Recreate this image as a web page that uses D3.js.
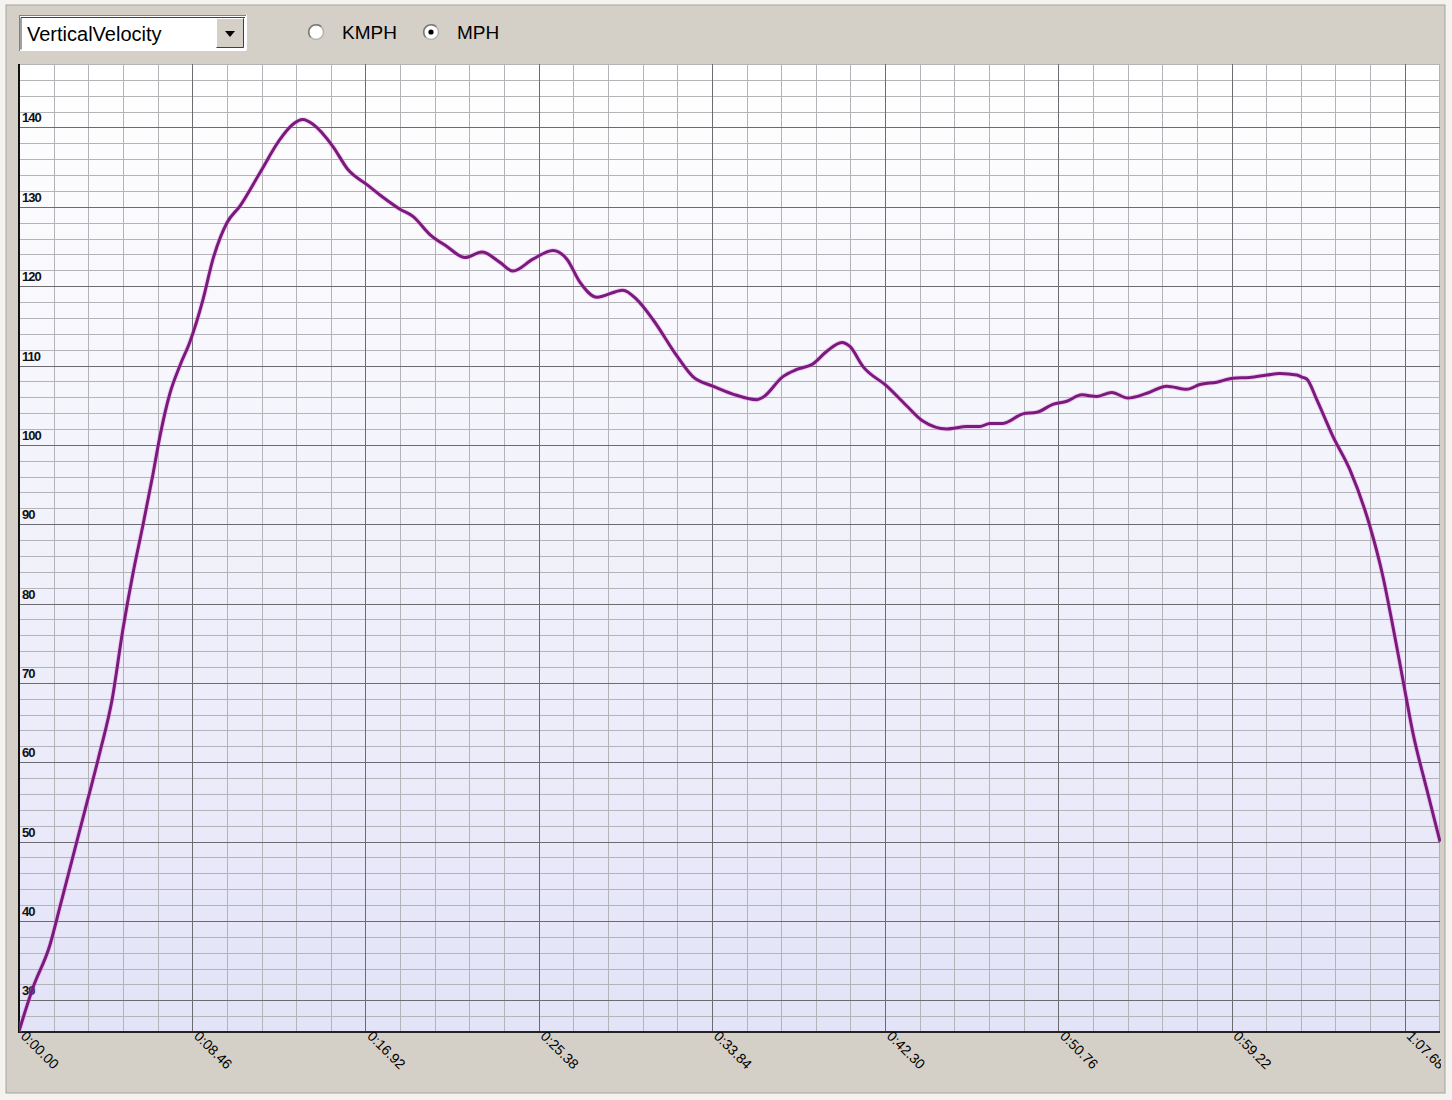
<!DOCTYPE html>
<html>
<head>
<meta charset="utf-8">
<script src="https://cdn.jsdelivr.net/npm/d3@7"></script>
<style>
  html, body { margin: 0; padding: 0; background: #f4f3ef; }
  svg { display: block; }
  text { font-family: "Liberation Sans", Arial, sans-serif; }
</style>
</head>
<body>
<svg id="chart" width="1452" height="1100"></svg>
<script>
// Elapsed time (seconds) and vertical velocity (mph)
const timeSec = [
  0, 0.684, 1.514, 2.002, 2.832, 3.369, 3.955, 4.541, 5.078, 5.567,
  6.055, 6.543, 6.885, 7.373, 7.862, 8.350, 8.985, 9.473, 10.157, 10.792,
  11.768, 12.745, 13.380, 13.868, 14.356, 15.333, 16.065, 16.993, 17.774, 18.605,
  19.239, 20.070, 20.900, 21.779, 22.609, 23.488, 24.123, 25.099, 26.076, 26.759,
  27.394, 28.224, 29.494, 30.177, 30.959, 32.131, 32.912, 33.889, 34.865, 36.037,
  36.330, 37.307, 37.990, 38.772, 39.456, 40.188, 40.579, 41.214, 42.385, 43.362,
  44.143, 45.315, 46.292, 46.927, 47.415, 48.050, 49.026, 49.710, 50.491, 51.175,
  51.907, 52.640, 53.372, 54.153, 55.081, 56.058, 57.034, 57.669, 58.499, 59.280,
  60.110, 60.940, 61.575, 62.405, 62.698, 62.893, 63.381, 64.163, 64.993, 65.970,
  66.604, 67.093, 67.581, 68.069, 68.753, 69.400
];
const velocityMph = [
  26.1, 31.6, 37.0, 41.8, 50.1, 55.4, 61.3, 67.8, 76.8, 83.8,
  89.9, 96.3, 101.1, 106.5, 110.0, 113.0, 118.3, 123.4, 128.0, 130.1,
  134.3, 138.5, 140.4, 141.0, 140.4, 137.6, 134.7, 132.8, 131.2, 129.7,
  128.8, 126.5, 125.0, 123.6, 124.3, 123.0, 121.9, 123.4, 124.5, 123.4,
  120.5, 118.6, 119.5, 118.3, 115.8, 111.2, 108.6, 107.4, 106.4, 105.7,
  106.0, 108.6, 109.5, 110.2, 111.8, 112.9, 112.4, 109.9, 107.4, 104.9,
  103.0, 102.0, 102.3, 102.3, 102.7, 102.7, 103.9, 104.1, 105.1, 105.5,
  106.3, 106.1, 106.6, 105.9, 106.5, 107.4, 107.0, 107.6, 107.9, 108.4,
  108.5, 108.8, 109.0, 108.8, 108.5, 108.3, 105.7, 101.1, 96.9, 89.8,
  83.5, 77.2, 70.5, 63.8, 56.6, 50.0
];

// Axis ticks
const yTickValues = [30, 40, 50, 60, 70, 80, 90, 100, 110, 120, 130, 140];
const xTickValues = [0, 8.46, 16.92, 25.38, 33.84, 42.30, 50.76, 59.22, 67.68];
const xTickLabels = ["0:00.00", "0:08.46", "0:16.92", "0:25.38", "0:33.84",
                     "0:42.30", "0:50.76", "0:59.22", "1:07.68"];
const unitOptions = ["KMPH", "MPH"];
const selectedUnit = "MPH";
const seriesName = "VerticalVelocity";

const svg = d3.select("#chart");
const W = 1452, H = 1100;
const plot = { left: 19, right: 1440, top: 64, bottom: 1032 };

const x = d3.scaleLinear().domain([0, 69.4]).range([plot.left, plot.right]);
const y = d3.scaleLinear().domain([26, 148]).range([plot.bottom, plot.top]);

// Window panel
svg.append("rect").attr("x", 6).attr("y", 5).attr("width", 1439).attr("height", 1088)
  .attr("fill", "#d4d0c8").attr("stroke", "#a7a39b").attr("stroke-width", 1);

// Plot background gradient
const defs = svg.append("defs");
const grad = defs.append("linearGradient").attr("id", "bg")
  .attr("x1", 0).attr("y1", 0).attr("x2", 0).attr("y2", 1);
grad.append("stop").attr("offset", "0%").attr("stop-color", "#ffffff");
grad.append("stop").attr("offset", "100%").attr("stop-color", "#e3e3f8");
defs.append("clipPath").attr("id", "plotClip").append("rect")
  .attr("x", plot.left).attr("y", plot.top - 2)
  .attr("width", plot.right - plot.left + 1).attr("height", plot.bottom - plot.top + 4);
defs.append("clipPath").attr("id", "labelClip").append("rect")
  .attr("x", 0).attr("y", 0).attr("width", plot.right + 1).attr("height", H);

svg.append("rect").attr("x", plot.left).attr("y", plot.top)
  .attr("width", plot.right - plot.left).attr("height", plot.bottom - plot.top)
  .attr("fill", "url(#bg)");

// Grid lines: minor every 2 mph / one fifth of a time step, major at the ticks
const grid = svg.append("g").attr("shape-rendering", "crispEdges");
const yMinor = d3.range(28, 148.01, 2).filter(v => v % 10 !== 0);
const xStep = 8.46 / 5;
const xMinor = d3.range(0, 69.4, xStep).filter((v, i) => i % 5 !== 0 && v > 0);

grid.selectAll("line.ymin").data(yMinor).join("line")
  .attr("x1", plot.left).attr("x2", plot.right)
  .attr("y1", d => Math.round(y(d)) + 0.5).attr("y2", d => Math.round(y(d)) + 0.5)
  .attr("stroke", "#b3b3b8");
grid.selectAll("line.xmin").data(xMinor).join("line")
  .attr("y1", plot.top).attr("y2", plot.bottom)
  .attr("x1", d => Math.round(x(d)) + 0.5).attr("x2", d => Math.round(x(d)) + 0.5)
  .attr("stroke", "#b3b3b8");
grid.selectAll("line.ymaj").data(yTickValues).join("line")
  .attr("x1", plot.left).attr("x2", plot.right)
  .attr("y1", d => Math.round(y(d)) + 0.5).attr("y2", d => Math.round(y(d)) + 0.5)
  .attr("stroke", "#6c6c70");
grid.selectAll("line.xmaj").data(xTickValues.slice(1)).join("line")
  .attr("y1", plot.top).attr("y2", plot.bottom)
  .attr("x1", d => Math.round(x(d)) + 0.5).attr("x2", d => Math.round(x(d)) + 0.5)
  .attr("stroke", "#6c6c70");

// Axis lines
svg.append("line").attr("x1", plot.left).attr("x2", plot.left)
  .attr("y1", plot.top).attr("y2", plot.bottom + 1)
  .attr("stroke", "#111").attr("stroke-width", 2);
svg.append("line").attr("x1", plot.left).attr("x2", plot.right)
  .attr("y1", plot.bottom).attr("y2", plot.bottom)
  .attr("stroke", "#222").attr("stroke-width", 2);

// Y tick labels, inside the plot just above each major line
svg.append("g").selectAll("text").data(yTickValues).join("text")
  .attr("x", 22).attr("y", d => y(d) - 5)
  .attr("font-size", 13).attr("font-weight", "bold").attr("letter-spacing", -1)
  .attr("fill", "#111")
  .text(d => d);

// X tick labels, rotated
svg.append("g").attr("clip-path", "url(#labelClip)")
  .selectAll("text").data(xTickValues).join("text")
  .attr("transform", d => `translate(${x(d) + 1},${plot.bottom + 5}) rotate(45)`)
  .attr("font-size", 14).attr("fill", "#000")
  .text((d, i) => xTickLabels[i]);

// Velocity line
const line = d3.line()
  .x((d, i) => x(timeSec[i]))
  .y(d => y(d))
  .curve(d3.curveMonotoneX);
const lineG = svg.append("g").attr("clip-path", "url(#plotClip)");
lineG.append("path").datum(velocityMph)
  .attr("d", line).attr("fill", "none")
  .attr("stroke", "#e58ae0").attr("stroke-width", 5).attr("stroke-opacity", 0.35)
  .attr("stroke-linejoin", "round");
lineG.append("path").datum(velocityMph)
  .attr("d", line).attr("fill", "none")
  .attr("stroke", "#7b1a7d").attr("stroke-width", 3)
  .attr("stroke-linejoin", "round");

// Series selector (combo box)
const combo = svg.append("g");
combo.append("rect").attr("x", 19.5).attr("y", 15.5).attr("width", 227).attr("height", 35)
  .attr("fill", "#ffffff").attr("stroke", "#808080");
combo.append("path").attr("d", "M21,49.5 V17.5 H245").attr("fill", "none").attr("stroke", "#404040");
combo.append("path").attr("d", "M20,50.5 H246.5 V15").attr("fill", "none").attr("stroke", "#ffffff");
combo.append("text").attr("x", 27).attr("y", 41).attr("font-size", 20)
  .attr("fill", "#000")
  .text(seriesName);
combo.append("rect").attr("x", 216).attr("y", 18).attr("width", 28).attr("height", 30)
  .attr("fill", "#d4d0c8");
combo.append("path").attr("d", "M216.5,47.5 V18.5 H243.5").attr("fill", "none").attr("stroke", "#ffffff");
combo.append("path").attr("d", "M216.5,47.5 H243.5 V18.5").attr("fill", "none").attr("stroke", "#404040");
combo.append("path").attr("d", "M225,31 L235,31 L230,37 Z").attr("fill", "#000");

// Unit radio buttons
const radioX = [316, 431];
const radios = svg.append("g").selectAll("g").data(unitOptions).join("g")
  .attr("transform", (d, i) => `translate(${radioX[i]},32)`);
radios.append("circle").attr("r", 7.5).attr("fill", "#ffffff").attr("stroke", "#b5b2ac").attr("stroke-width", 1.5);
radios.append("path").attr("d", "M-5.3,5.3 A7.5,7.5 0 0 1 5.3,-5.3")
  .attr("fill", "none").attr("stroke", "#7a7874").attr("stroke-width", 1.5);
radios.filter(d => d === selectedUnit).append("circle").attr("r", 2.6).attr("fill", "#000");
radios.append("text").attr("x", 26).attr("y", 7).attr("font-size", 19).attr("fill", "#000")
  .text(d => d);
</script>
</body>
</html>
